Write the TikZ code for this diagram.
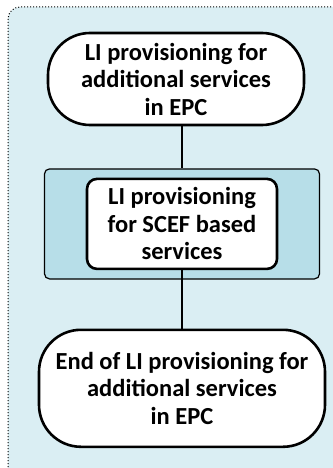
\documentclass[tikz,border=0pt]{standalone}
\usepackage{fontspec}
\setmainfont{Carlito}
\usetikzlibrary{positioning}
\definecolor{paleaqua}{HTML}{DAEEF3}
\definecolor{bandaqua}{HTML}{B7DEE8}

\begin{document}
\begin{tikzpicture}
	[x=1pt,y=1pt,thick,
		line node/.style={draw,line width=2.6pt,fill=white,align=center,inner sep=2pt,font=\fontsize{24.5}{27.5}\selectfont\bfseries},
		round node/.style={line node,rounded corners=42pt},
		inner node/.style={line node,rounded corners=10pt,minimum width=190pt,minimum height=90pt},
		band node/.style={draw,line width=1.2pt,fill=bandaqua,rounded corners=5pt,minimum width=275pt,minimum height=110pt}]

	\useasboundingbox (0,0) rectangle (332,-468);
	\draw[dotted,line width=1pt,fill=paleaqua,rounded corners=12pt] (8,-7) rectangle (345,-480);

	\node[round node, minimum width=256pt, minimum height=92pt] (top) at (176,-79) {LI provisioning for\\additional services\\in EPC};
	\node[band node]    (band)  [below=42pt of top, xshift=6pt]  {};
	\node[inner node]   (scef)  at (band)  {LI provisioning\\for SCEF based\\services};
	\node[round node, minimum width=286pt, minimum height=117pt]   (end)   [below=49pt of band]  {End of LI provisioning for\\additional services\\in EPC};

	\path[line width=1.8pt]
	(top.south -| band.north) edge (band)
	(scef) edge (end)
	;

\end{tikzpicture}
\end{document}
